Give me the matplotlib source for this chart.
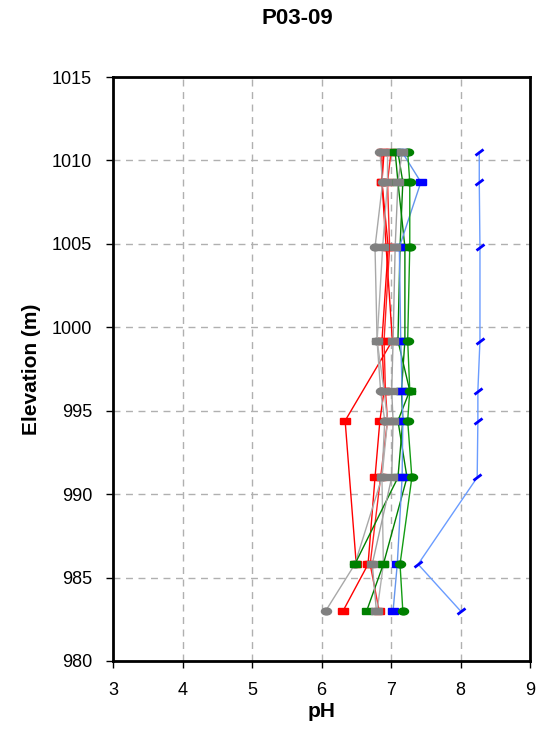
import numpy as np
import matplotlib
matplotlib.use("Agg")
import matplotlib.pyplot as plt
from matplotlib.markers import MarkerStyle
from matplotlib.transforms import Affine2D

plt.rcParams['font.family'] = ['Liberation Sans', 'DejaVu Sans']

# Elevations of the sampling levels (m)
elev = [1010.5, 1008.7, 1004.8, 999.2, 996.2, 994.4, 991.0, 985.8, 983.0]

nan = np.nan
# pH profiles
ph_lightblue = [8.27, 8.27, 8.28, 8.28, 8.25, 8.25, 8.24, 7.39, 8.00]
ph_blue      = [7.16, 7.43, 7.12, 7.14, 7.16, 7.17, 7.16, 7.09, 7.03]
ph_green1    = [7.24, 7.27, 7.27, 7.24, 7.27, 7.24, 7.30, 7.13, 7.17]
ph_green2    = [7.10, 7.17, 7.13, 7.10, 7.27, 7.10, 7.23, 6.89, 6.65]
ph_green3    = [7.06, 7.10, 7.20, 7.20, 7.15, 7.17, 7.10, 6.48, nan]
ph_red1      = [6.87, 6.87, 6.93, 7.02, nan, 6.34, nan, 6.50, nan]
ph_red2      = [6.90, 6.87, 6.96, 6.87, 6.90, 6.84, 6.77, 6.67, 6.31]
ph_red3      = [7.00, 6.95, 6.98, 6.90, 6.92, 6.95, 6.85, 6.70, 6.83]
ph_gray1     = [6.84, 6.88, 6.77, 6.80, 6.85, 6.91, 6.87, 6.48, 6.06]
ph_gray2     = [7.16, 7.10, 7.06, 7.03, 7.01, 7.03, 7.01, 6.73, 6.79]
ph_gray3     = [6.95, 6.95, 6.88, 6.80, 6.90, 6.95, 6.87, 6.89, 6.80]

fig = plt.figure(figsize=(5.38, 7.36), dpi=100)
ax = fig.add_axes([113/538, 1 - 661/736, (530 - 113)/538, (661 - 77)/736])

slash = MarkerStyle('_', transform=Affine2D().rotate_deg(40))
rect = MarkerStyle('s', transform=Affine2D().scale(1.45, 1.0))
oval = MarkerStyle('o', transform=Affine2D().scale(1.45, 1.0))

series = [
    (ph_red2, '#ff0000', '#ff0000', rect),
    (ph_red1, '#ff0000', '#ff0000', rect),
    (ph_red3, '#ff2020', '#ff0000', rect),
    (ph_gray1, '#a8a8a8', '#808080', oval),
    (ph_gray3, '#b0b0b0', '#808080', rect),
    (ph_green3, '#008000', '#008000', rect),
    (ph_green2, '#008000', '#008000', rect),
    (ph_blue, '#6495ed', '#0000ff', rect),
    (ph_green1, '#139c13', '#008000', oval),
    (ph_gray2, '#a0a0a0', '#808080', rect),
]

for vals, lc, mc, mk in series:
    v = np.array(vals, dtype=float)
    e = np.array(elev, dtype=float)
    m = ~np.isnan(v)
    ax.plot(v[m], e[m], color=lc, lw=1.0, marker=mk, ms=5,
            mfc=mc, mec=mc, zorder=3)

v = np.array(ph_lightblue)
ax.plot(v, elev, color='#6a9cff', lw=1.0, zorder=3)
ax.plot(v, elev, ls='none', marker=slash, ms=7, mew=2.0, mec='#0000ff', zorder=4)

ax.set_xlim(3, 9)
ax.set_ylim(980, 1015)
ax.set_xticks(range(3, 10))
ax.set_yticks(range(980, 1016, 5))
ax.grid(True, color='#b0b0b0', ls=(0, (5, 4)), lw=1.0)
ax.set_axisbelow(True)
for s in ax.spines.values():
    s.set_linewidth(2)
    s.set_color('black')
ax.tick_params(direction='out', length=5, width=1, labelsize=13, pad=10)

ax.set_xlabel('pH', fontsize=15, fontweight='bold', labelpad=2)
ax.set_ylabel('Elevation (m)', fontsize=15, fontweight='bold', labelpad=8)
fig.text(297/538, 1 - 18/736, 'P03-09', fontsize=16, fontweight='bold',
         ha='center', va='center')

fig.savefig('out.png', dpi=100)
